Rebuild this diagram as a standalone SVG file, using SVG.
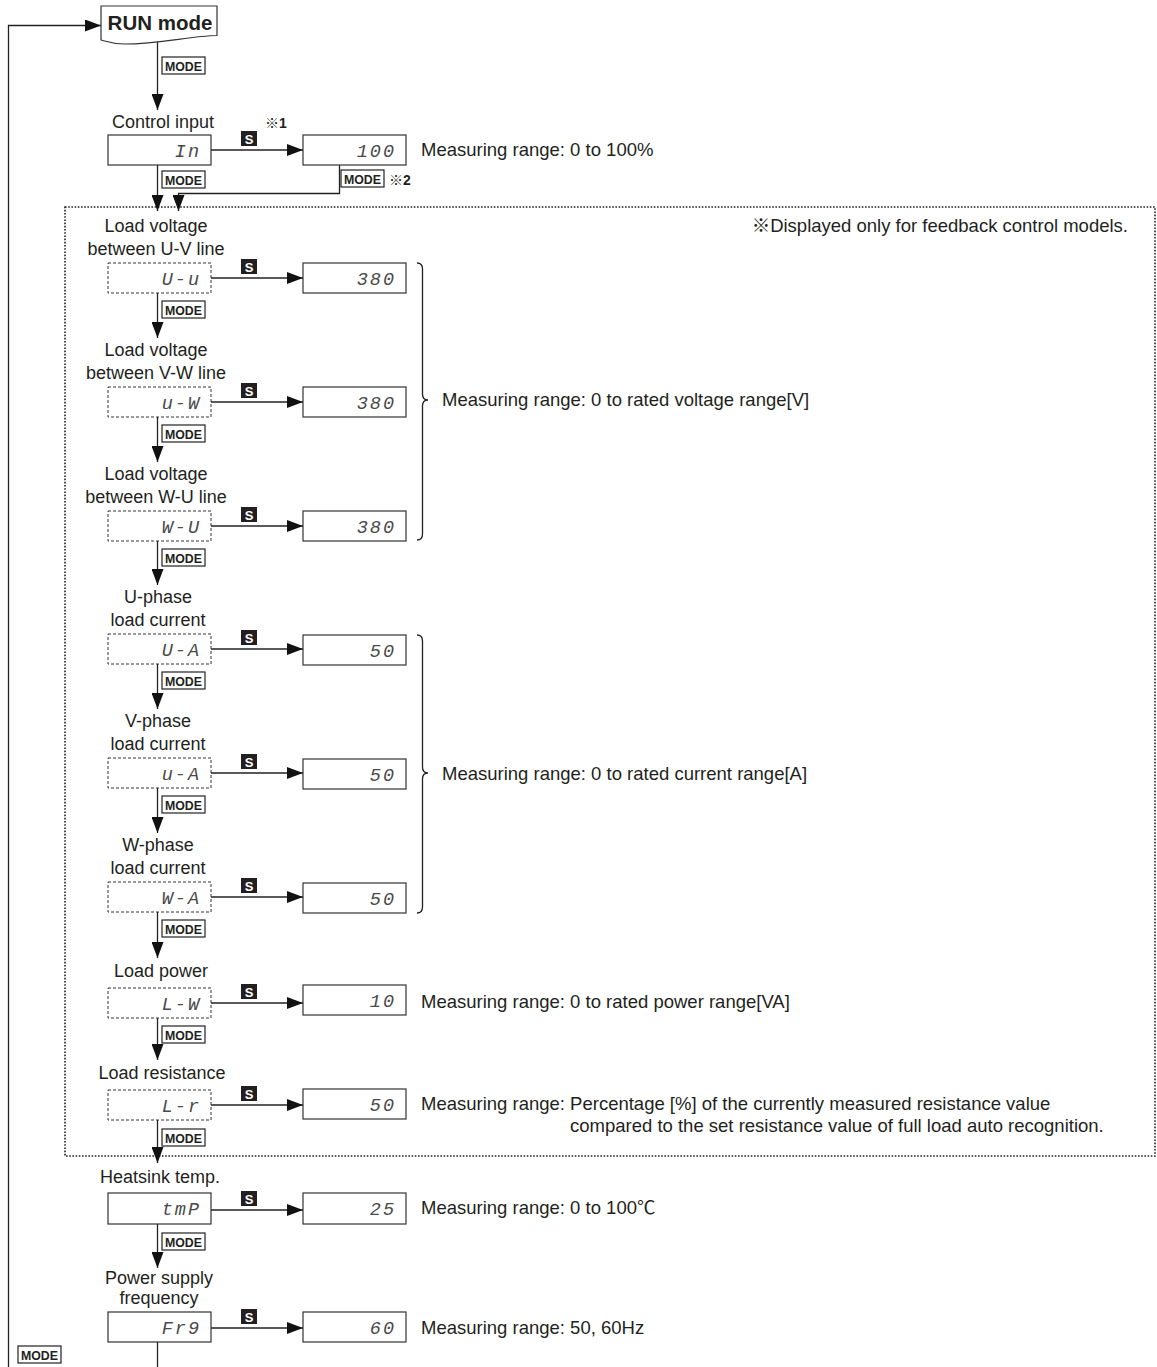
<svg xmlns="http://www.w3.org/2000/svg" width="1157" height="1367" viewBox="0 0 1157 1367">
<style>
  text { font-family: "Liberation Sans", Arial, "Noto Sans CJK JP", sans-serif; fill: #231f20; }
  .lbl { font-size: 18px; text-anchor: middle; }
  .meas { font-size: 18.5px; }
  .seg { font-family: "Liberation Mono", "DejaVu Sans Mono", monospace; font-style: italic; font-size: 18.5px; fill: #4a4a4a; text-anchor: end; letter-spacing: 2px; }
  .box { fill: #fff; stroke: #333; stroke-width: 1.2; }
  .dbox { fill: #fff; stroke: #333; stroke-width: 1; stroke-dasharray: 3 2; }
  .ln { fill: none; stroke: #222; stroke-width: 1.3; }
  .mb { fill: #fff; stroke: #222; stroke-width: 1.2; }
  .mt { font-size: 12.5px; font-weight: bold; text-anchor: middle; }
  .sb { fill: #231f20; }
  .st { font-size: 13px; font-weight: bold; fill: #fff; text-anchor: middle; }
  .note { font-size: 14px; font-weight: bold; }
  .dot { fill: none; stroke: #222; stroke-width: 1.6; stroke-dasharray: 1.6 1.6; }
</style>
<defs>
  <marker id="ah" markerUnits="userSpaceOnUse" markerWidth="16" markerHeight="12" refX="16" refY="6" orient="auto">
    <path d="M0,0 L16,6 L0,12 Z" fill="#111"/>
  </marker>
  <g id="mode">
    <rect class="mb" x="0" y="0" width="43" height="17"/>
    <text class="mt" x="21.5" y="13.5" textLength="37" lengthAdjust="spacingAndGlyphs">MODE</text>
  </g>
  <g id="skey">
    <rect class="sb" x="0" y="0" width="16" height="15"/>
    <text class="st" x="8" y="12.5">S</text>
  </g>
</defs>

<!-- dotted region -->
<rect id="feedback-region" class="dot" x="65" y="207" width="1090" height="949"/>
<text class="meas" x="1128" y="232" text-anchor="end">※Displayed only for feedback control models.</text>

<!-- connectors -->
<g id="connectors">
  <path class="ln" d="M8.5,1367 V25.5 H101" marker-end="url(#ah)"/>
  <path class="ln" d="M157.5,42 V110" marker-end="url(#ah)"/>
  <path class="ln" d="M211,150 H303" marker-end="url(#ah)"/>
  <path class="ln" d="M157.5,165 V211" marker-end="url(#ah)"/>
  <path class="ln" d="M339.5,165 V193.5 H178.5 V211" marker-end="url(#ah)"/>

  <path class="ln" d="M211,278 H303" marker-end="url(#ah)"/>
  <path class="ln" d="M157.5,293 V338" marker-end="url(#ah)"/>
  <path class="ln" d="M211,402 H303" marker-end="url(#ah)"/>
  <path class="ln" d="M157.5,417 V462" marker-end="url(#ah)"/>
  <path class="ln" d="M211,526 H303" marker-end="url(#ah)"/>
  <path class="ln" d="M157.5,541 V585" marker-end="url(#ah)"/>
  <path class="ln" d="M211,649 H303" marker-end="url(#ah)"/>
  <path class="ln" d="M157.5,664 V709" marker-end="url(#ah)"/>
  <path class="ln" d="M211,773 H303" marker-end="url(#ah)"/>
  <path class="ln" d="M157.5,788 V833" marker-end="url(#ah)"/>
  <path class="ln" d="M211,897 H303" marker-end="url(#ah)"/>
  <path class="ln" d="M157.5,912 V958" marker-end="url(#ah)"/>
  <path class="ln" d="M211,1003 H303" marker-end="url(#ah)"/>
  <path class="ln" d="M157.5,1018 V1060" marker-end="url(#ah)"/>
  <path class="ln" d="M211,1105 H303" marker-end="url(#ah)"/>
  <path class="ln" d="M157.5,1120 V1163" marker-end="url(#ah)"/>
  <path class="ln" d="M211,1210 H303" marker-end="url(#ah)"/>
  <path class="ln" d="M157.5,1224 V1268" marker-end="url(#ah)"/>
  <path class="ln" d="M211,1328 H303" marker-end="url(#ah)"/>
  <path class="ln" d="M157.5,1342 V1367"/>

  <!-- key labels on connectors -->
  <use href="#mode" x="162" y="57"/>
  <use href="#mode" x="162" y="171"/>
  <use href="#mode" x="341" y="170"/>
  <use href="#skey" x="241" y="131"/>
  <use href="#skey" x="241" y="259"/>
  <use href="#mode" x="162" y="301"/>
  <use href="#skey" x="241" y="383"/>
  <use href="#mode" x="162" y="425"/>
  <use href="#skey" x="241" y="507"/>
  <use href="#mode" x="162" y="549"/>
  <use href="#skey" x="241" y="630"/>
  <use href="#mode" x="162" y="672"/>
  <use href="#skey" x="241" y="754"/>
  <use href="#mode" x="162" y="796"/>
  <use href="#skey" x="241" y="878"/>
  <use href="#mode" x="162" y="920"/>
  <use href="#skey" x="241" y="984"/>
  <use href="#mode" x="162" y="1026"/>
  <use href="#skey" x="241" y="1086"/>
  <use href="#mode" x="162" y="1129"/>
  <use href="#skey" x="241" y="1191"/>
  <use href="#mode" x="162" y="1233"/>
  <use href="#skey" x="241" y="1309"/>
  <use href="#mode" x="18" y="1346"/>
  <text class="note" x="265" y="128">※1</text>
  <text class="note" x="389" y="185">※2</text>
</g>

<!-- RUN mode -->
<g id="run-mode">
  <path class="box" d="M101,6 H217 V35.5 C190,36 160,44 125,44 C112,44 105,41 101,40 Z"/>
  <text x="160" y="30" font-size="20.5" font-weight="bold" text-anchor="middle">RUN mode</text>
</g>

<!-- Control input -->
<g id="control-input">
  <text class="lbl" x="163" y="128">Control input</text>
  <rect class="box" x="108" y="135" width="103" height="30"/>
  <text class="seg" x="201" y="157">In</text>
</g>
<g id="control-input-value">
  <rect class="box" x="303" y="135" width="103" height="30"/>
  <text class="seg" x="396" y="157">100</text>
  <text class="meas" x="421" y="156">Measuring range: 0 to 100%</text>
</g>

<!-- Load voltage U-V -->
<g id="volt-uv">
  <text class="lbl" x="156" y="232">Load voltage</text>
  <text class="lbl" x="156" y="255">between U-V line</text>
  <rect class="dbox" x="108" y="263" width="103" height="30"/>
  <text class="seg" x="201" y="285">U-u</text>
</g>
<g id="volt-uv-value">
  <rect class="box" x="303" y="263" width="103" height="30"/>
  <text class="seg" x="396" y="285">380</text>
</g>

<!-- Load voltage V-W -->
<g id="volt-vw">
  <text class="lbl" x="156" y="356">Load voltage</text>
  <text class="lbl" x="156" y="379">between V-W line</text>
  <rect class="dbox" x="108" y="387" width="103" height="30"/>
  <text class="seg" x="201" y="409">u-W</text>
</g>
<g id="volt-vw-value">
  <rect class="box" x="303" y="387" width="103" height="30"/>
  <text class="seg" x="396" y="409">380</text>
</g>

<!-- Load voltage W-U -->
<g id="volt-wu">
  <text class="lbl" x="156" y="480">Load voltage</text>
  <text class="lbl" x="156" y="503">between W-U line</text>
  <rect class="dbox" x="108" y="511" width="103" height="30"/>
  <text class="seg" x="201" y="533">W-U</text>
</g>
<g id="volt-wu-value">
  <rect class="box" x="303" y="511" width="103" height="30"/>
  <text class="seg" x="396" y="533">380</text>
</g>

<!-- voltage brace -->
<g id="volt-range">
  <path class="ln" d="M417,263 Q422.5,263 422.5,269 V394 Q422.5,400 428,400 Q422.5,400 422.5,406 V534 Q422.5,540 417,540" stroke-width="1.1"/>
  <text class="meas" x="442" y="406">Measuring range: 0 to rated voltage range[V]</text>
</g>

<!-- U-phase current -->
<g id="curr-u">
  <text class="lbl" x="158" y="603">U-phase</text>
  <text class="lbl" x="158" y="626">load current</text>
  <rect class="dbox" x="108" y="634" width="103" height="30"/>
  <text class="seg" x="201" y="656">U-A</text>
</g>
<g id="curr-u-value">
  <rect class="box" x="303" y="635" width="103" height="30"/>
  <text class="seg" x="396" y="657">50</text>
</g>

<!-- V-phase current -->
<g id="curr-v">
  <text class="lbl" x="158" y="727">V-phase</text>
  <text class="lbl" x="158" y="750">load current</text>
  <rect class="dbox" x="108" y="758" width="103" height="30"/>
  <text class="seg" x="201" y="780">u-A</text>
</g>
<g id="curr-v-value">
  <rect class="box" x="303" y="759" width="103" height="30"/>
  <text class="seg" x="396" y="781">50</text>
</g>

<!-- W-phase current -->
<g id="curr-w">
  <text class="lbl" x="158" y="851">W-phase</text>
  <text class="lbl" x="158" y="874">load current</text>
  <rect class="dbox" x="108" y="882" width="103" height="30"/>
  <text class="seg" x="201" y="904">W-A</text>
</g>
<g id="curr-w-value">
  <rect class="box" x="303" y="883" width="103" height="30"/>
  <text class="seg" x="396" y="905">50</text>
</g>

<!-- current brace -->
<g id="curr-range">
  <path class="ln" d="M417,635 Q422.5,635 422.5,641 V767 Q422.5,773 428,773 Q422.5,773 422.5,779 V907 Q422.5,913 417,913" stroke-width="1.1"/>
  <text class="meas" x="442" y="780">Measuring range: 0 to rated current range[A]</text>
</g>

<!-- Load power -->
<g id="load-power">
  <text class="lbl" x="161" y="977">Load power</text>
  <rect class="dbox" x="108" y="988" width="103" height="30"/>
  <text class="seg" x="201" y="1010">L-W</text>
</g>
<g id="load-power-value">
  <rect class="box" x="303" y="985" width="103" height="30"/>
  <text class="seg" x="396" y="1007">10</text>
  <text class="meas" x="421" y="1008">Measuring range: 0 to rated power range[VA]</text>
</g>

<!-- Load resistance -->
<g id="load-resistance">
  <text class="lbl" x="162" y="1079">Load resistance</text>
  <rect class="dbox" x="108" y="1090" width="103" height="30"/>
  <text class="seg" x="201" y="1112">L-r</text>
</g>
<g id="load-resistance-value">
  <rect class="box" x="303" y="1089" width="103" height="30"/>
  <text class="seg" x="396" y="1111">50</text>
  <text class="meas" x="421" y="1110">Measuring range: Percentage [%] of the currently measured resistance value</text>
  <text class="meas" x="570" y="1132">compared to the set resistance value of full load auto recognition.</text>
</g>

<!-- Heatsink temp -->
<g id="heatsink-temp">
  <text class="lbl" x="160" y="1183">Heatsink temp.</text>
  <rect class="box" x="108" y="1193" width="103" height="31"/>
  <text class="seg" x="201" y="1215">tmP</text>
</g>
<g id="heatsink-temp-value">
  <rect class="box" x="303" y="1193" width="103" height="31"/>
  <text class="seg" x="396" y="1215">25</text>
  <text class="meas" x="421" y="1214">Measuring range: 0 to 100℃</text>
</g>

<!-- Power supply frequency -->
<g id="supply-freq">
  <text class="lbl" x="159" y="1284" font-size="17">Power supply</text>
  <text class="lbl" x="159" y="1304" font-size="17">frequency</text>
  <rect class="box" x="108" y="1312" width="103" height="30"/>
  <text class="seg" x="201" y="1334">Fr9</text>
</g>
<g id="supply-freq-value">
  <rect class="box" x="303" y="1312" width="103" height="30"/>
  <text class="seg" x="396" y="1334">60</text>
  <text class="meas" x="421" y="1334">Measuring range: 50, 60Hz</text>
</g>
</svg>
